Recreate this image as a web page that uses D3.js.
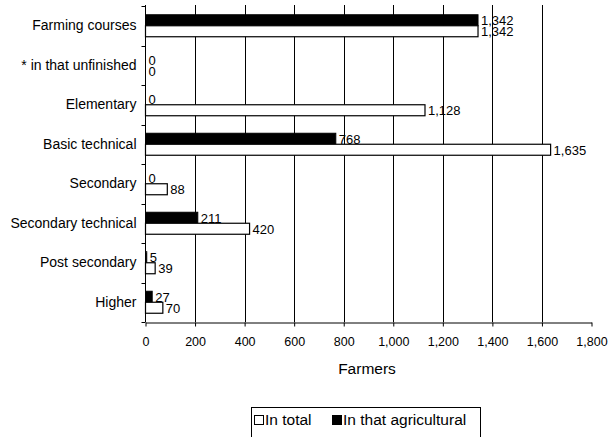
<!DOCTYPE html>
<html><head><meta charset="utf-8">
<script src="https://cdn.jsdelivr.net/npm/d3@7"></script>
<style>
body{margin:0;background:#fff;}
text{font-family:Arial,"Liberation Sans",sans-serif;fill:#000;}
</style></head>
<body><svg id="c" width="609" height="437"></svg>
<script>
const categories = ["Farming courses","* in that unfinished","Elementary","Basic technical","Secondary","Secondary technical","Post secondary","Higher"];
const agricultural = [1342, 0, 0, 768, 0, 211, 5, 27];
const total = [1342, 0, 1128, 1635, 88, 420, 39, 70];
const xTicks = [0,200,400,600,800,1000,1200,1400,1600,1800];
const seriesNames = ["In total","In that agricultural"];

const svg = d3.select("#c");
const x = d3.scaleLinear().domain([0,1800]).range([145.5,591.5]);
const y = d3.scaleBand().domain(categories).range([6,322]);
const fmt = d3.format(",");
const bandH = y.bandwidth();
const barH = 11;
const off = (bandH - 2*barH)/2;

// gridlines
svg.append("g").selectAll("line").data(xTicks.filter(d=>d>0 && d<1800)).join("line")
  .attr("x1",d=>Math.round(x(d))+0.5).attr("x2",d=>Math.round(x(d))+0.5)
  .attr("y1",5).attr("y2",322).attr("stroke","#000").attr("stroke-width",1);

// bars
const g = svg.append("g");
categories.forEach((c,i)=>{
  const y0 = y(c)+off;
  if (agricultural[i] > 0) {
    g.append("rect").attr("x",x(0)).attr("y",y0).attr("width",x(agricultural[i])-x(0)).attr("height",barH)
      .attr("fill","#000").attr("stroke","#000");
  }
  if (total[i] > 0) {
    g.append("rect").attr("x",x(0)).attr("y",y0+barH).attr("width",x(total[i])-x(0)).attr("height",barH)
      .attr("fill","#fff").attr("stroke","#000").attr("stroke-width",1.2);
  }
  g.append("text").attr("x",x(agricultural[i])+3).attr("y",y0+barH/2+5)
    .attr("font-size",13).text(fmt(agricultural[i]));
  g.append("text").attr("x",x(total[i])+3).attr("y",y0+barH*1.5+5)
    .attr("font-size",13).text(fmt(total[i]));
});

// axes
const xAxis = d3.axisBottom(x).tickValues(xTicks).tickFormat(fmt).tickSize(4).tickSizeOuter(0);
const xa = svg.append("g").attr("transform","translate(0,322.5)").call(xAxis);
xa.selectAll("text").attr("font-size",12.5).attr("dy","1.35em").style("font-family","Arial, 'Liberation Sans', sans-serif");
xa.selectAll("line,path").attr("stroke","#000");

const yAxis = d3.axisLeft(y).tickSize(0).tickPadding(9);
const ya = svg.append("g").attr("transform","translate(145.5,0)").call(yAxis);
ya.selectAll("text").attr("font-size",14).style("font-family","Arial, 'Liberation Sans', sans-serif");
ya.select("path").attr("stroke","#000").attr("d","M0,5V322");
// band boundary ticks
ya.selectAll(".bt").data(categories.map(c=>y(c)).concat([322])).join("line").attr("class","bt")
  .attr("x1",-4).attr("x2",0).attr("y1",d=>Math.round(d)+0.5).attr("y2",d=>Math.round(d)+0.5).attr("stroke","#000");

svg.append("text").attr("x",367).attr("y",374).attr("text-anchor","middle").attr("font-size",15.5).text("Farmers");

// legend
const lg = svg.append("g");
lg.append("rect").attr("x",251.5).attr("y",407.5).attr("width",229).attr("height",40).attr("fill","#fff").attr("stroke","#000");
const items = [{name:seriesNames[0],fill:"#fff",x:254},{name:seriesNames[1],fill:"#000",x:332}];
items.forEach(it=>{
  lg.append("rect").attr("x",it.x+0.5).attr("y",415.5).attr("width",9).attr("height",9).attr("fill",it.fill).attr("stroke","#000");
  lg.append("text").attr("x",it.x+11).attr("y",425).attr("font-size",15.5).text(it.name);
});
</script></body></html>
